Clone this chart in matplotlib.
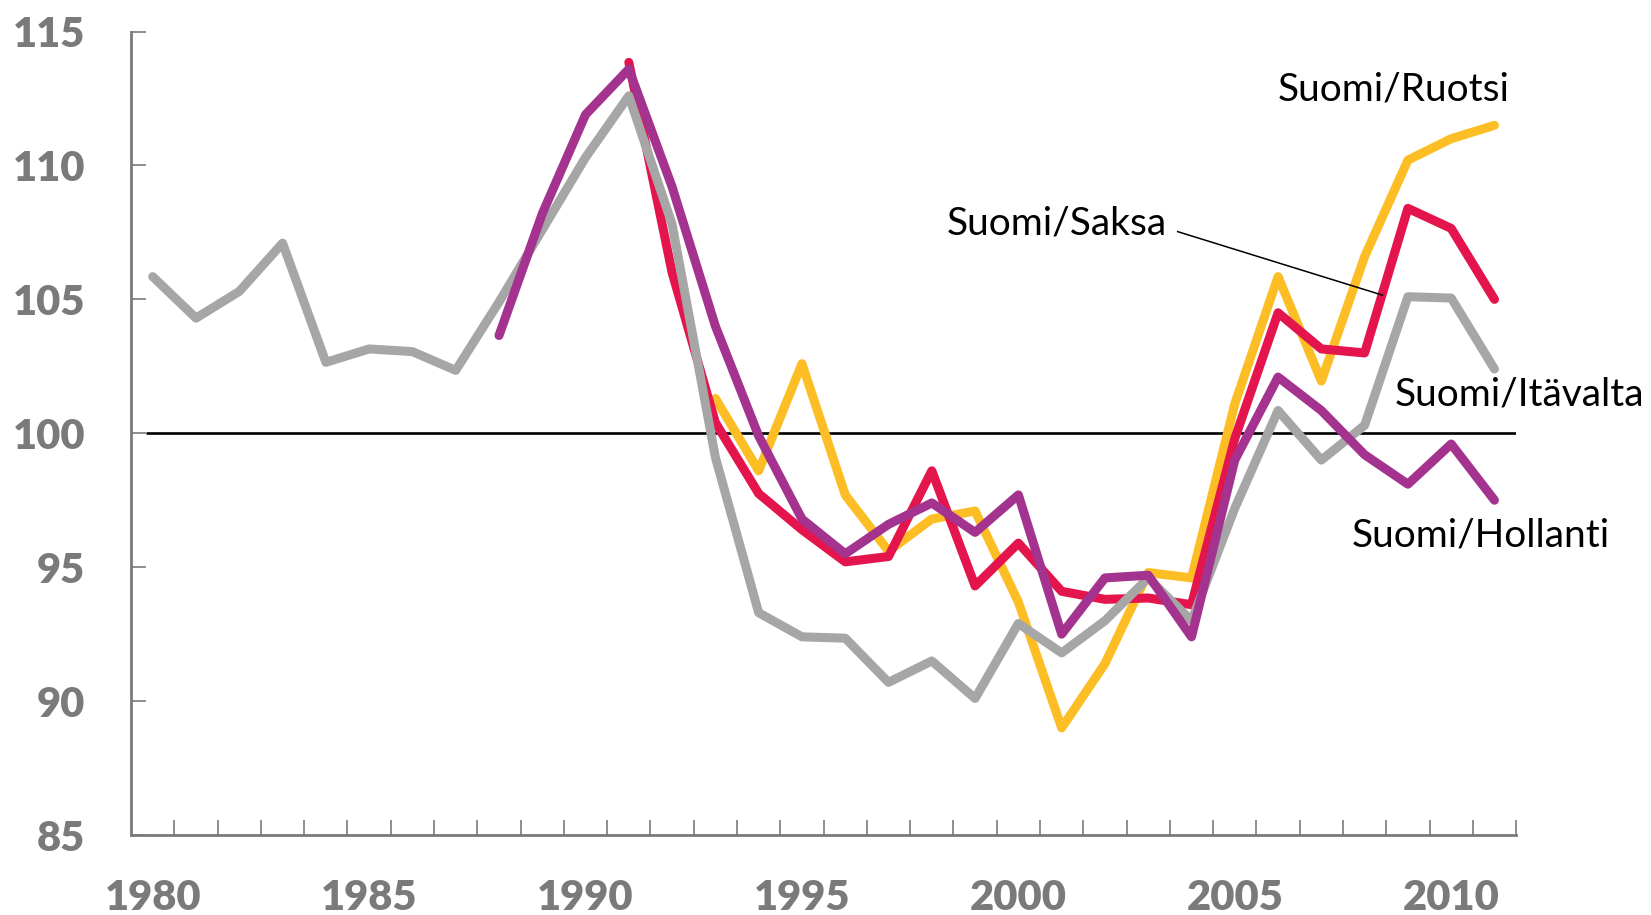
import numpy as np
import matplotlib
matplotlib.use("Agg")
import matplotlib.pyplot as plt

plt.rcParams['font.family'] = ['Lato', 'DejaVu Sans']

years = np.arange(1980, 2012)

# Suomi/Itävalta, 1980-2011
itavalta = [105.85, 104.3, 105.3, 107.1, 102.65, 103.15, 103.05, 102.35,
            104.9, 107.6, 110.3, 112.6, 107.8, 99.1, 93.3, 92.4, 92.35,
            90.7, 91.5, 90.1, 92.9, 91.8, 93.0, 94.6, 93.0, 97.2, 100.85,
            99.0, 100.3, 105.1, 105.05, 102.4]
# Suomi/Hollanti, 1988-2011
hollanti = [103.65, 108.2, 111.9, 113.6, 109.2, 104.0, 99.9, 96.8, 95.5,
            96.6, 97.4, 96.3, 97.7, 92.5, 94.6, 94.7, 92.4, 99.0, 102.1,
            100.85, 99.2, 98.1, 99.6, 97.5]
# Suomi/Saksa, 1991-2011
saksa = [113.85, 106.0, 100.4, 97.75, 96.4, 95.2, 95.4, 98.6, 94.3, 95.9,
         94.1, 93.8, 93.85, 93.6, 99.8, 104.5, 103.15, 103.0, 108.4, 107.65,
         105.0]
# Suomi/Ruotsi, 1993-2011
ruotsi = [101.3, 98.6, 102.6, 97.7, 95.6, 96.8, 97.1, 93.7, 89.0, 91.4,
          94.8, 94.6, 101.1, 105.85, 101.95, 106.6, 110.2, 111.0, 111.5]

yellow = '#FDBE25'
red = '#E4144C'
purple = '#A4338F'
gray = '#A6A6A6'
axcol = '#7A7A7A'

fig = plt.figure(figsize=(16.51, 9.15), dpi=100)
ax = fig.add_axes([0.0794, 0.0874, 0.9183 - 0.0794, 0.9655 - 0.0874])

ax.hlines(100, 1979.85, 2011.5, color='black', lw=1.9, zorder=1.5)

lw = 6.5
ax.plot(years[-len(ruotsi):], ruotsi, color=yellow, lw=lw, solid_capstyle='round')
ax.plot(years[-len(saksa):], saksa, color=red, lw=lw, solid_capstyle='round')
ax.plot(years, itavalta, color=gray, lw=lw, solid_capstyle='round')
ax.plot(years[-len(hollanti):], hollanti, color=purple, lw=lw, solid_capstyle='round')

ax.set_xlim(1979.5, 2011.5)
ax.set_ylim(85, 115)

for s in ['top', 'right']:
    ax.spines[s].set_visible(False)
for s in ['left', 'bottom']:
    ax.spines[s].set_color(axcol)
    ax.spines[s].set_linewidth(2)

ax.set_yticks(np.arange(85, 116, 5))
ax.set_xticks(np.arange(1980, 2011, 5))
ax.set_xticks(np.arange(1980.5, 2012, 1), minor=True)
ax.tick_params(axis='x', which='major', length=0, pad=32, labelsize=30,
               labelcolor=axcol)
ax.tick_params(axis='x', which='minor', direction='in', length=10.5,
               width=1.2, color=axcol)
ax.tick_params(axis='y', direction='in', length=11, width=1.2, color=axcol,
               pad=33, labelsize=30, labelcolor=axcol)
for lab in ax.get_xticklabels() + ax.get_yticklabels():
    lab.set_fontweight('heavy')

tfs = 28
ax.text(2008.67, 112.82, 'Suomi/Ruotsi', fontsize=tfs, ha='center', va='center')
ax.text(2011.58, 101.43, 'Suomi/Itävalta', fontsize=tfs, ha='center', va='center',
        clip_on=False)
ax.text(2010.68, 96.2, 'Suomi/Hollanti', fontsize=tfs, ha='center', va='center')
ax.text(2000.88, 107.82, 'Suomi/Saksa', fontsize=tfs, ha='center', va='center')
ax.plot([2003.68, 2008.41], [107.53, 105.16], color='black', lw=1.1)

fig.savefig('out.png', dpi=100)
